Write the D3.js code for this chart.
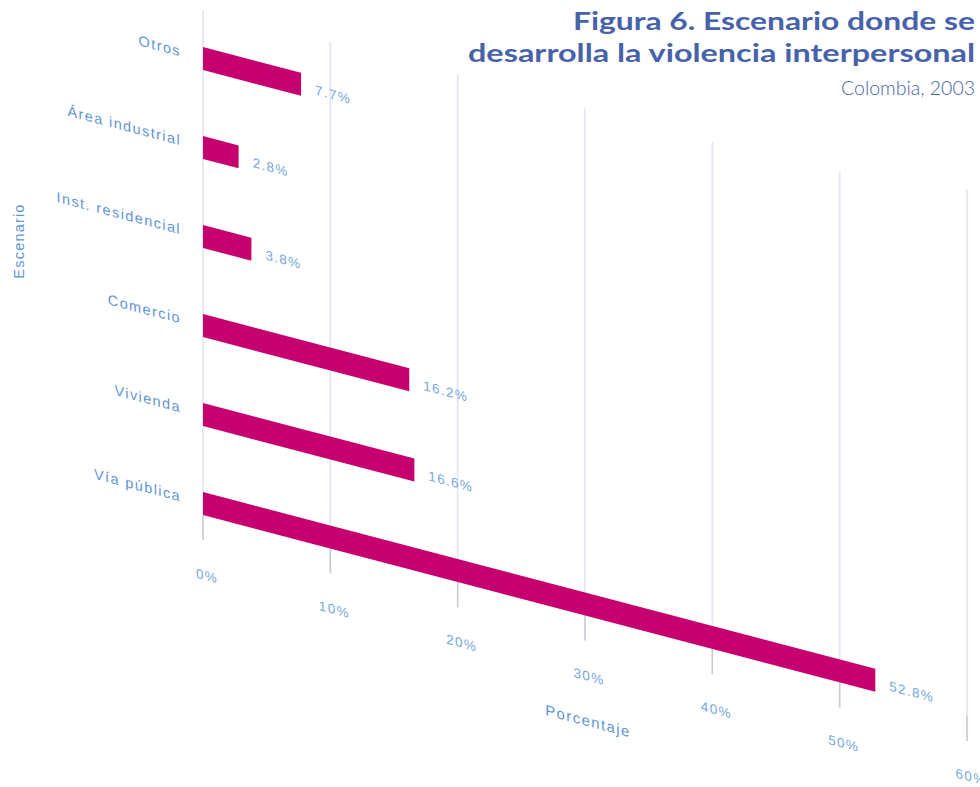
<!DOCTYPE html>
<html>
<head>
<meta charset="utf-8">
<script src="https://cdn.jsdelivr.net/npm/d3@7"></script>
<style>
  html, body { margin: 0; padding: 0; background: #ffffff; }
  svg { display: block; }
</style>
</head>
<body>
<svg id="chart" width="980" height="787"></svg>
<script>
// ---- data ----
const categories = ["Otros", "Área industrial", "Inst. residencial", "Comercio", "Vivienda", "Vía pública"];
const values = [7.7, 2.8, 3.8, 16.2, 16.6, 52.8];
const valueLabels = ["7.7%", "2.8%", "3.8%", "16.2%", "16.6%", "52.8%"];
const tickValues = [0, 10, 20, 30, 40, 50, 60];
const tickLabels = ["0%", "10%", "20%", "30%", "40%", "50%", "60%"];
const titleLines = ["Figura 6. Escenario donde se", "desarrolla la violencia interpersonal"];
const subtitle = "Colombia, 2003";
const xAxisTitle = "Porcentaje";
const yAxisTitle = "Escenario";

// ---- setup ----
const svg = d3.select("#chart");
const barColor = "#c7006f";
const labelColor = "#5f95d6";
const tickColor = "#74a8e0";
const titleColor = "#4862a9";
const font = "'Liberation Sans', Arial, sans-serif";

const x = d3.scaleLinear().domain([0, 60]).range([0, 764]);
const y = d3.scaleBand().domain(categories).range([47, 515]).paddingInner(0.742).paddingOuter(0);

const skewDeg = Math.atan(0.263) * 180 / Math.PI;
const g = svg.append("g").attr("transform", `translate(203,0) skewY(${skewDeg})`);

// gridlines (top ends rise less steeply on the far right)
const gridTop = [10, 8, 8, 8, 8, 4, -12];
g.append("g").selectAll("line.grid").data(tickValues).join("line")
  .attr("class", "grid")
  .attr("x1", d => x(d)).attr("x2", d => x(d))
  .attr("y1", (d, i) => gridTop[i]).attr("y2", 540)
  .attr("stroke", "#dfe5ef").attr("stroke-width", 1.6);

// darker tick segments at the bottom
g.append("g").selectAll("line.tick").data(tickValues).join("line")
  .attr("x1", d => x(d)).attr("x2", d => x(d))
  .attr("y1", 515).attr("y2", 540)
  .attr("stroke", "#c9cad0").attr("stroke-width", 1.4);

// bars
g.append("g").selectAll("rect").data(categories).join("rect")
  .attr("x", x(0))
  .attr("y", d => y(d))
  .attr("width", (d, i) => x(values[i]) - x(0))
  .attr("height", y.bandwidth())
  .attr("fill", barColor);

// value labels
g.append("g").selectAll("text").data(categories).join("text")
  .attr("x", (d, i) => x(values[i]) + 14)
  .attr("y", d => y(d) + y.bandwidth() / 2 + 3)
  .attr("dominant-baseline", "middle")
  .attr("font-family", font).attr("font-size", 13.5)
  .attr("letter-spacing", 1.3)
  .attr("fill", tickColor)
  .text((d, i) => valueLabels[i]);

// category labels
g.append("g").selectAll("text").data(categories).join("text")
  .attr("x", -22)
  .attr("y", d => y(d) + y.bandwidth() / 2)
  .attr("text-anchor", "end")
  .attr("dominant-baseline", "middle")
  .attr("font-family", font).attr("font-size", 14.5)
  .attr("letter-spacing", 1.4)
  .attr("fill", labelColor)
  .text(d => d);

// tick labels
g.append("g").selectAll("text").data(tickValues).join("text")
  .attr("x", d => x(d) + 4)
  .attr("y", 576)
  .attr("text-anchor", "middle")
  .attr("dominant-baseline", "middle")
  .attr("font-family", font).attr("font-size", 13.5)
  .attr("letter-spacing", 1.3)
  .attr("fill", tickColor)
  .text((d, i) => tickLabels[i]);

// x axis title
g.append("text")
  .attr("x", 385).attr("y", 621)
  .attr("text-anchor", "middle")
  .attr("dominant-baseline", "middle")
  .attr("font-family", font).attr("font-size", 15)
  .attr("letter-spacing", 1.4)
  .attr("fill", labelColor)
  .text(xAxisTitle);

// y axis title
svg.append("text")
  .attr("transform", "translate(24,241) rotate(-90)")
  .attr("text-anchor", "middle")
  .attr("font-family", font).attr("font-size", 14.5)
  .attr("letter-spacing", 1.2)
  .attr("fill", labelColor)
  .text(yAxisTitle);

// title (fixed size, squeezed to the reference widths)
const titleFont = "Lato, 'Open Sans', sans-serif";
const titleSpecs = [
  { text: titleLines[0], y: 30, w: 402, weight: 700, size: 24 },
  { text: titleLines[1], y: 62, w: 507, weight: 700, size: 24 }
];
svg.append("g").selectAll("text").data(titleSpecs).join("text")
  .attr("x", d => 975 - d.w)
  .attr("y", d => d.y)
  .attr("font-family", titleFont)
  .attr("font-weight", d => d.weight)
  .attr("font-size", d => d.size)
  .attr("textLength", d => d.w)
  .attr("lengthAdjust", "spacingAndGlyphs")
  .attr("fill", titleColor)
  .text(d => d.text);

// subtitle: font size chosen so its natural width matches the reference
const sub = svg.append("text")
  .attr("x", 975).attr("y", 95)
  .attr("text-anchor", "end")
  .attr("font-family", titleFont)
  .attr("font-weight", 300)
  .attr("font-size", 22)
  .attr("fill", titleColor)
  .text(subtitle);
const sw = sub.node().getComputedTextLength();
sub.attr("font-size", 22 * 134 / sw);
</script>
</body>
</html>
